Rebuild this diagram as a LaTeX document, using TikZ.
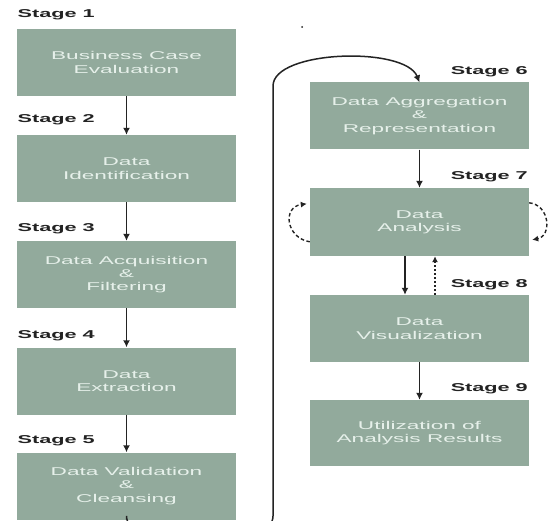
\documentclass[tikz,border=0pt]{standalone}
\usepackage{fontspec}
\setmainfont{Liberation Sans}
\newfontfamily\boxfont[FakeStretch=2.0]{Liberation Sans}
\newfontfamily\stagefont[FakeStretch=1.9]{Liberation Sans}
\usetikzlibrary{arrows.meta,calc}
\definecolor{boxfill}{RGB}{146,170,156}
\definecolor{boxtext}{RGB}{230,240,234}
\definecolor{ink}{RGB}{35,35,35}
\tikzset{
  stagebox/.style={fill=boxfill, draw=none, inner sep=0pt, align=center,
    minimum width=219pt, minimum height=67pt, text=boxtext,
    font=\boxfont\fontsize{11.3}{13.4}\selectfont},
  stagelabel/.style={inner sep=0pt, text=ink,
    font=\stagefont\bfseries\fontsize{11.4}{13}\selectfont},
  arr/.style={-{Latex[length=7pt,width=7pt]}, line width=1.7pt, draw=ink},
  looparr/.style={-{Latex[length=6pt,width=6pt]}, line width=1.4pt, draw=ink,
    dash pattern=on 3.5pt off 2.5pt},
  dotarr/.style={-{Latex[length=6pt,width=6pt]}, line width=1.4pt, draw=ink,
    dash pattern=on 2pt off 2pt}
}
\begin{document}
\begin{tikzpicture}[x=1pt,y=-1pt]
\path[use as bounding box] (0,0) rectangle (548,521);
\clip (0,0) rectangle (548,521);
\fill[white] (0,0) rectangle (548,521);

% left column
\node[stagebox] (b1) at (126.5,62.5) {Business Case\\Evaluation};
\node[stagebox] (b2) at (126.5,168.5) {Data\\Identification};
\node[stagebox] (b3) at (126.5,274.5) {Data Acquisition\\\&\\Filtering};
\node[stagebox] (b4) at (126.5,381) {Data\\Extraction};
\node[stagebox] (b5) at (126.5,486) {Data Validation\\\&\\Cleansing};

% right column
\node[stagebox] (b6) at (419.5,116) {Data Aggregation\\\&\\Representation};
\node[stagebox, minimum height=68pt] (b7) at (419.5,222) {Data\\Analysis};
\node[stagebox] (b8) at (419.5,328.5) {Data\\Visualization};
\node[stagebox, minimum height=66pt] (b9) at (419.5,433) {Utilization of\\Analysis Results};

% stage labels
\node[stagelabel, anchor=base west] (s1) at (17.5,18) {Stage 1};
\node[stagelabel, anchor=base west] (s2) at (17.5,123) {Stage 2};
\node[stagelabel, anchor=base west] (s3) at (17.5,232) {Stage 3};
\node[stagelabel, anchor=base west] (s4) at (17.5,338) {Stage 4};
\node[stagelabel, anchor=base west] (s5) at (17.5,443) {Stage 5};
\node[stagelabel, anchor=base east] (s6) at (528,75) {Stage 6};
\node[stagelabel, anchor=base east] (s7) at (528,180) {Stage 7};
\node[stagelabel, anchor=base east] (s8) at (528,287) {Stage 8};
\node[stagelabel, anchor=base east] (s9) at (528,391) {Stage 9};

% arrows left column
\draw[arr] (b1.south) -- (b2.north);
\draw[arr] (b2.south) -- (b3.north);
\draw[arr] (b3.south) -- (b4.north);
\draw[arr] (b4.south) -- (b5.north);

% loop from stage 5 to stage 6
\coordinate (lb) at (126.5,530);
\coordinate (rb) at (273,530);
\coordinate (rt) at (273,100);
\draw[arr, line width=1.5pt, rounded corners=14pt] (b5.south) -- (lb) -- (rb) -- (rt)
  .. controls (273,50) and (405,46) .. (b6.north);

% right column arrows
\draw[arr] (b6.south) -- (b7.north);
\draw[arr] ($(b7.south)+(-14.5,0)$) -- ($(b8.north)+(-14.5,0)$);
\draw[dotarr] ($(b8.north)+(15.5,0)$) -- ($(b7.south)+(15.5,0)$);
\draw[arr] (b8.south) -- (b9.north);

% dashed self loops on Data Analysis
\coordinate (l1) at ($(b7.north west)+(0,54)$);
\coordinate (l2) at ($(b7.north west)+(-3,16)$);
\draw[looparr] (l1) .. controls (286,238) and (282,207) .. (l2);
\coordinate (r1) at ($(b7.north east)+(0,15)$);
\coordinate (r2) at ($(b7.north east)+(3,52)$);
\draw[looparr] (r1) .. controls (550,205) and (552,236) .. (r2);

% small dot
\fill[ink] (302,27) circle (1pt);
\end{tikzpicture}
\end{document}
